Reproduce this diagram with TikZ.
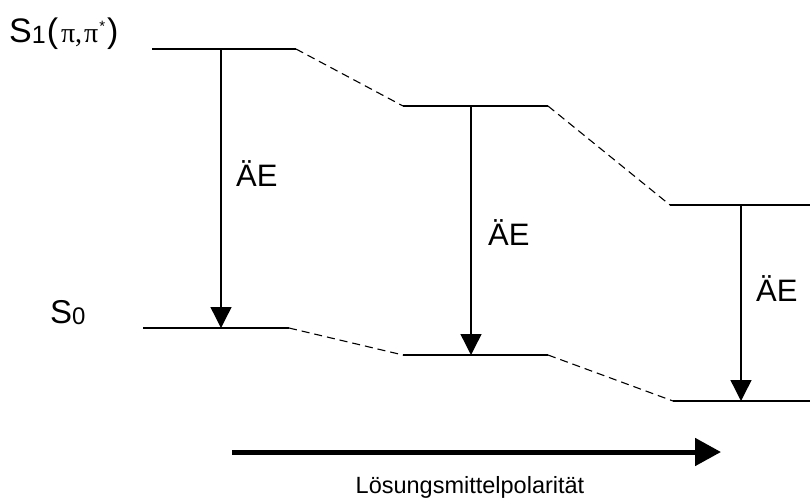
\documentclass[tikz,border=0pt]{standalone}
\usepackage{fontspec}
\setmainfont{Liberation Sans}
\newfontfamily\greekfont{Liberation Serif}
\usetikzlibrary{arrows.meta}
\newcommand{\fs}[1]{\fontsize{#1}{#1}\selectfont}
\begin{document}
\begin{tikzpicture}[x=1pt,y=-1pt,
  level/.style={line width=1.4pt},
  link/.style={line width=1.1pt,dash pattern=on 8pt off 5pt},
  trans/.style={line width=1.4pt,-{Triangle[width=21pt,length=21pt]}},
  lbl/.style={font=\fs{31},inner sep=0pt,anchor=base west},
  axis/.style={line width=5pt,-{Triangle[width=27pt,length=26pt]}}]
\useasboundingbox (0,0) rectangle (810,500);

% excited state S1 levels
\coordinate (a1l) at (152,49);  \coordinate (a1r) at (296,49);
\coordinate (a2l) at (403,106); \coordinate (a2r) at (548,106);
\coordinate (a3l) at (670,205); \coordinate (a3r) at (810,205);
% ground state S0 levels
\coordinate (b1l) at (143,328); \coordinate (b1r) at (289,328);
\coordinate (b2l) at (403,355); \coordinate (b2r) at (548,355);
\coordinate (b3l) at (673,401); \coordinate (b3r) at (810,401);

\draw[level] (a1l) -- (a1r);
\draw[level] (a2l) -- (a2r);
\draw[level] (a3l) -- (a3r);
\draw[level] (b1l) -- (b1r);
\draw[level] (b2l) -- (b2r);
\draw[level] (b3l) -- (b3r);

\draw[link] (a1r) -- (a2l);
\draw[link] (a2r) -- (a3l);
\draw[link] (b1r) -- (b2l);
\draw[link] (b2r) -- (b3l);

% transitions
\coordinate (t1) at (221,49);  \coordinate (u1) at (221,328);
\coordinate (t2) at (471,106); \coordinate (u2) at (471,355);
\coordinate (t3) at (741,205); \coordinate (u3) at (741,401);
\draw[trans] (t1) -- (u1);
\draw[trans] (t2) -- (u2);
\draw[trans] (t3) -- (u3);

\node[lbl] (e1) at (236,186) {ÄE};
\node[lbl] (e2) at (488,245) {ÄE};
\node[lbl] (e3) at (756,301) {ÄE};

% state labels
\node[lbl,font=\fs{34}] (s1) at (9,43)
  {S\raisebox{-1pt}{\fs{25}1}\hspace{1pt}{\fs{34}(}\hspace{3pt}{\greekfont\fs{28}π,\hspace{2pt}π}\hspace{1pt}\raisebox{11pt}{\fs{15}*}\hspace{2pt}{\fs{34})}};
\node[lbl,font=\fs{33}] (s0) at (50,323) {S\raisebox{-1pt}{\fs{24}0}};

% solvent polarity axis
\coordinate (p0) at (232,452);
\coordinate (p1) at (721,452);
\draw[axis] (p0) -- (p1);
\node[inner sep=0pt,anchor=base,font=\fs{23.5}] (pol) at (470,493) {Lösungsmittelpolarität};
\end{tikzpicture}
\end{document}
